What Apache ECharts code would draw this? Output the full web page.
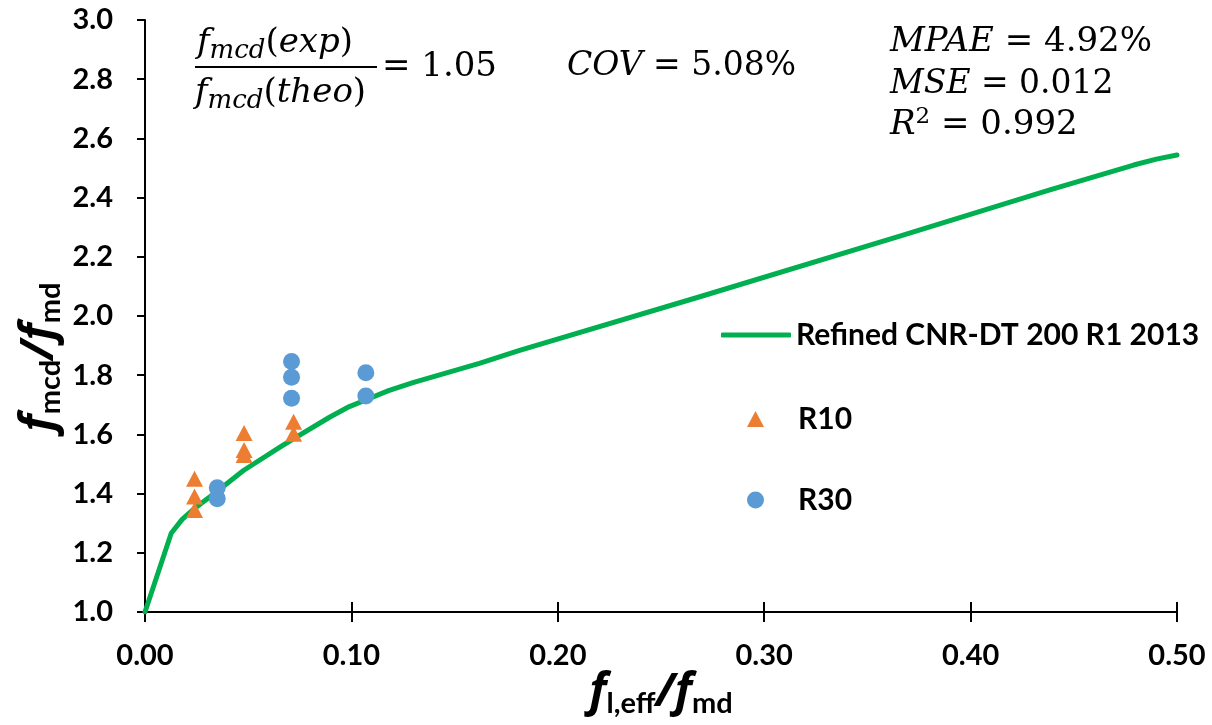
<!DOCTYPE html>
<html>
<head>
<meta charset="utf-8">
<script src="https://cdn.jsdelivr.net/npm/echarts@6/dist/echarts.min.js"></script>
<style>
  html, body { margin: 0; padding: 0; background: #ffffff; }
  #chart { width: 1212px; height: 725px; }
</style>
</head>
<body>
<div id="chart"></div>
<script>
// Confinement model curve: f_l,eff/f_md -> f_mcd/f_md
const curveX = [0, 0.0127, 0.018, 0.024, 0.0353, 0.0477, 0.0652, 0.0717, 0.0894, 0.099, 0.1072, 0.118, 0.1298, 0.162, 0.1815, 0.2688, 0.3657, 0.4384, 0.479, 0.49, 0.5];
const curveY = [1.0, 1.266, 1.313, 1.350, 1.410, 1.478, 1.556, 1.584, 1.658, 1.694, 1.717, 1.748, 1.775, 1.840, 1.884, 2.065, 2.270, 2.426, 2.510, 2.530, 2.544];

// Test specimens, series R10
const r10X = [0.024, 0.024, 0.024, 0.048, 0.048, 0.048, 0.072, 0.072];
const r10Y = [1.450, 1.390, 1.345, 1.605, 1.547, 1.530, 1.643, 1.602];

// Test specimens, series R30
const r30X = [0.035, 0.035, 0.071, 0.071, 0.071, 0.107, 0.107];
const r30Y = [1.420, 1.383, 1.846, 1.793, 1.722, 1.808, 1.730];

const seriesNames = ['Refined CNR-DT 200 R1 2013', 'R10', 'R30'];

const pair = (xs, ys) => xs.map((x, i) => [x, ys[i]]);

const LABEL_FONT = 'Lato';
const MATH_FONT = 'DejaVu Serif';
const TITLE_F_FONT = 'Open Sans';

const mathRich = (size) => ({
  i: { fontFamily: MATH_FONT, fontStyle: 'italic', fontSize: size, color: '#000', lineHeight: 40, verticalAlign: 'middle' },
  n: { fontFamily: MATH_FONT, fontSize: size, color: '#000', lineHeight: 40, verticalAlign: 'middle' },
  s: { fontFamily: MATH_FONT, fontStyle: 'italic', fontSize: Math.round(size * 0.76), color: '#000', lineHeight: 26, padding: [16, 0, 0, 0], verticalAlign: 'middle' },
  p: { fontFamily: MATH_FONT, fontSize: Math.round(size * 0.68), color: '#000', lineHeight: 23, padding: [0, 0, 16, 0], verticalAlign: 'middle' }
});

const titleRich = {
  f: { fontFamily: TITLE_F_FONT, fontStyle: 'italic', fontWeight: 'bold', fontSize: 46, color: '#000', lineHeight: 56, verticalAlign: 'middle' },
  s: { fontFamily: LABEL_FONT, fontWeight: 'bold', fontSize: 29, color: '#000', lineHeight: 30, padding: [22, 0, 0, 0], verticalAlign: 'middle' }
};

const chart = echarts.init(document.getElementById('chart'), null, { renderer: 'canvas' });

const baseX = {
  type: 'value', min: 0, max: 0.5, interval: 0.1, position: 'bottom',
  splitLine: { show: false }
};

const legendText = { fontFamily: LABEL_FONT, fontWeight: 'bold', fontSize: 30, color: '#000' };

chart.setOption({
  backgroundColor: '#ffffff',
  animation: false,
  grid: { left: 145, right: 35, top: 20, bottom: 113, containLabel: false },
  xAxis: [
    Object.assign({}, baseX, {
      axisLine: { lineStyle: { color: '#000', width: 2 } },
      axisTick: { inside: true, length: 10, lineStyle: { color: '#000', width: 2 } },
      axisLabel: {
        margin: 29,
        fontFamily: LABEL_FONT, fontWeight: 'bold', fontSize: 29, color: '#000',
        formatter: v => v.toFixed(2)
      }
    }),
    Object.assign({}, baseX, {
      axisLine: { show: false },
      axisTick: { inside: false, length: 10, lineStyle: { color: '#000', width: 2 } },
      axisLabel: { show: false }
    })
  ],
  yAxis: {
    type: 'value', min: 1, max: 3, interval: 0.2,
    splitLine: { show: false },
    axisLine: { show: true, lineStyle: { color: '#000', width: 2 } },
    axisTick: { show: true, inside: false, length: 8, lineStyle: { color: '#000', width: 2 } },
    axisLabel: {
      margin: 32,
      fontFamily: LABEL_FONT, fontWeight: 'bold', fontSize: 29, color: '#000',
      formatter: v => v.toFixed(1)
    }
  },
  legend: [
    {
      data: [{ name: seriesNames[0], icon: 'roundRect' }],
      left: 721, top: 320, padding: 0,
      itemWidth: 70, itemHeight: 5, itemGap: 0,
      textStyle: legendText
    },
    {
      data: [{ name: seriesNames[1], icon: 'triangle' }],
      left: 747, top: 404, padding: 0,
      itemWidth: 17, itemHeight: 16, itemGap: 0,
      textStyle: Object.assign({ padding: [0, 0, 0, 29] }, legendText)
    },
    {
      data: [{ name: seriesNames[2], icon: 'circle' }],
      left: 747, top: 485, padding: 0,
      itemWidth: 17, itemHeight: 17, itemGap: 0,
      textStyle: Object.assign({ padding: [0, 0, 0, 29] }, legendText)
    }
  ],
  series: [
    {
      name: seriesNames[0], type: 'line', xAxisIndex: 0,
      data: pair(curveX, curveY),
      showSymbol: false, smooth: false,
      lineStyle: { color: '#00B050', width: 5, cap: 'round', join: 'round' },
      itemStyle: { color: '#00B050' },
      z: 2
    },
    {
      name: seriesNames[1], type: 'scatter', xAxisIndex: 0,
      data: pair(r10X, r10Y),
      symbol: 'triangle', symbolSize: [17, 16],
      itemStyle: { color: '#ED7D31', opacity: 1 },
      z: 3
    },
    {
      name: seriesNames[2], type: 'scatter', xAxisIndex: 0,
      data: pair(r30X, r30Y),
      symbol: 'circle', symbolSize: 17,
      itemStyle: { color: '#5B9BD5', opacity: 1 },
      z: 4
    }
  ],
  graphic: [
    // fraction: f_mcd(exp) / f_mcd(theo) = 1.05
    { type: 'text', left: 197, top: 22, style: { text: '{i|f}{s|mcd}{n|(}{i|exp}{n|)}', rich: mathRich(34) } },
    { type: 'rect', shape: { x: 195, y: 66, width: 182, height: 2 }, style: { fill: '#000' } },
    { type: 'text', left: 195, top: 72, style: { text: '{i|f}{s|mcd}{n|(}{i|theo}{n|)}', rich: mathRich(34) } },
    { type: 'text', left: 382, top: 50, style: { text: '{n|= 1.05}', rich: mathRich(34) } },
    { type: 'text', left: 567, top: 50, style: { text: '{i|COV}{n| = 5.08%}', rich: mathRich(33) } },
    // goodness-of-fit statistics
    { type: 'text', left: 890, top: 25, style: { text: '{i|MPAE}{n| = 4.92%}', rich: mathRich(34) } },
    { type: 'text', left: 890, top: 68, style: { text: '{i|MSE}{n| = 0.012}', rich: mathRich(33) } },
    { type: 'text', left: 890, top: 106, style: { text: '{i|R}{p|2}{n| = 0.992}', rich: mathRich(34) } },
    // axis titles
    {
      type: 'text', x: 40, y: 357, rotation: Math.PI / 2,
      style: { text: '{f|f}{s|mcd}{f|/f}{s|md}', rich: titleRich, align: 'center', verticalAlign: 'middle' }
    },
    {
      type: 'text', x: 661, y: 693,
      style: { text: '{f|f}{s|l,eff}{f|/f}{s|md}', rich: titleRich, align: 'center', verticalAlign: 'middle' }
    }
  ]
});
</script>
</body>
</html>
